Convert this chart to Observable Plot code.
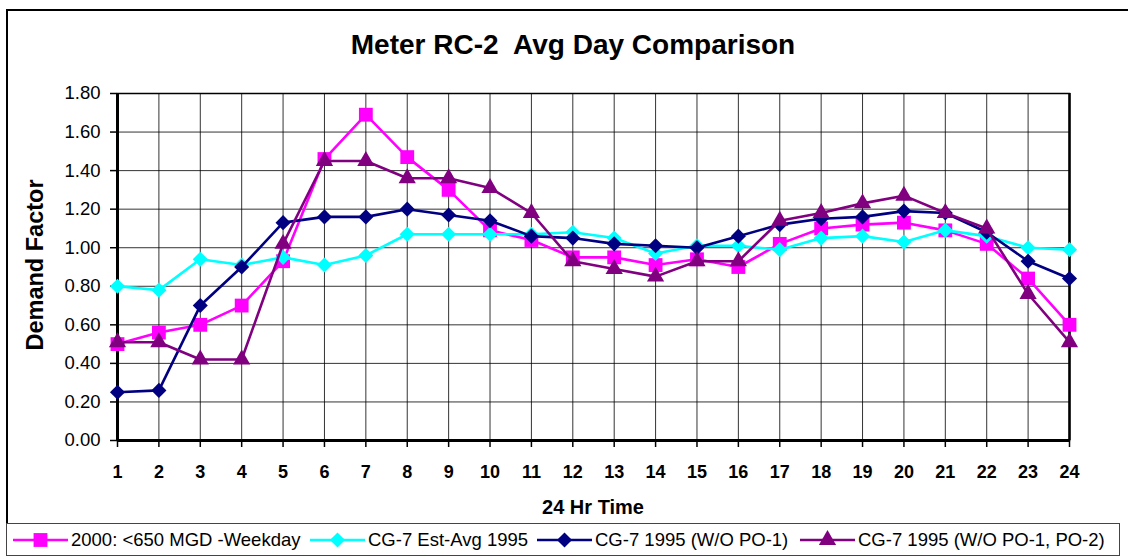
<!DOCTYPE html>
<html>
<head>
<meta charset="utf-8">
<script src="https://cdn.jsdelivr.net/npm/d3@7"></script>
<script src="https://cdn.jsdelivr.net/npm/@observablehq/plot@0.6"></script>
<style>
  html, body { margin: 0; padding: 0; background: #fff; }
  #chart { position: relative; width: 1128px; height: 559px; overflow: hidden; background: #fff; font-family: "Liberation Sans", Arial, sans-serif; color: #000; }
  .abs { position: absolute; }
  #title { left: 0; width: 1146px; top: 31px; text-align: center; font-weight: bold; font-size: 28px; line-height: 28px; white-space: pre; }
  #xtitle { left: 117px; width: 952px; top: 497px; text-align: center; font-weight: bold; font-size: 20px; line-height: 20px; }
  #ytitle { left: 35px; top: 265px; font-weight: bold; font-size: 23.5px; line-height: 23px; white-space: nowrap; transform: translate(-50%, -50%) rotate(-90deg); }
  #legend { left: 6px; top: 523px; width: 1114px; height: 33px; border: 1px solid #444; background: #fff; box-sizing: border-box; }
  .litem { position: absolute; top: 7px; height: 18px; display: flex; align-items: center; font-size: 18.5px; line-height: 18px; white-space: nowrap; }
  .litem svg { margin-right: 3px; overflow: visible; }
</style>
</head>
<body>
<div id="chart">
  <div class="abs" style="left:6px;top:9px;width:1140px;height:516px;border:2px solid #000;border-bottom:none;box-sizing:border-box;"></div>
  <div id="plot" class="abs" style="left:0;top:0;"></div>
  <div id="title" class="abs">Meter RC-2  Avg Day Comparison</div>
  <div id="xtitle" class="abs">24 Hr Time</div>
  <div id="ytitle" class="abs">Demand Factor</div>
  <div id="legend" class="abs"></div>
</div>
<script>
// ---- data ----
const hours = [1,2,3,4,5,6,7,8,9,10,11,12,13,14,15,16,17,18,19,20,21,22,23,24];
const yTicks = [0,0.2,0.4,0.6,0.8,1.0,1.2,1.4,1.6,1.8];
const seriesNames = [
  "2000: <650 MGD -Weekday",
  "CG-7 Est-Avg 1995",
  "CG-7 1995 (W/O PO-1)",
  "CG-7 1995 (W/O PO-1, PO-2)"
];
const weekday2000 = [0.50,0.56,0.60,0.70,0.93,1.46,1.69,1.47,1.30,1.09,1.04,0.95,0.95,0.91,0.94,0.90,1.02,1.10,1.12,1.13,1.09,1.02,0.84,0.60];
const estAvg1995  = [0.80,0.78,0.94,0.91,0.95,0.91,0.96,1.07,1.07,1.07,1.07,1.08,1.05,0.97,1.01,1.01,0.99,1.05,1.06,1.03,1.09,1.06,1.00,0.99];
const woPO1       = [0.25,0.26,0.70,0.90,1.13,1.16,1.16,1.20,1.17,1.14,1.06,1.05,1.02,1.01,1.00,1.06,1.12,1.15,1.16,1.19,1.18,1.08,0.93,0.84];
const woPO1PO2    = [0.51,0.51,0.42,0.42,1.02,1.45,1.45,1.36,1.36,1.31,1.18,0.93,0.89,0.85,0.93,0.93,1.14,1.18,1.23,1.27,1.18,1.10,0.76,0.51];
const seriesValues = [weekday2000, estAvg1995, woPO1, woPO1PO2];
const colors = ["#FF00FF", "#00FFFF", "#000080", "#800080"];
const symbols = ["square", "diamond2", "diamond2", "triangle"];
const symbolR = [7.8, 6.8, 6.8, 6.4];

// ---- chart ----
const marks = [
  Plot.gridX(hours, {stroke: "#000", strokeOpacity: 0.8, strokeWidth: 1}),
  Plot.gridY(yTicks, {stroke: "#000", strokeOpacity: 0.8, strokeWidth: 1}),
  Plot.frame({stroke: "#000", strokeWidth: 1.5}),
  Plot.ruleX([hours[0]], {stroke: "#000", strokeWidth: 3}),
  Plot.ruleX([hours[hours.length - 1]], {stroke: "#000", strokeWidth: 2.5}),
  Plot.ruleY([yTicks[0]], {stroke: "#000", strokeWidth: 3}),
  Plot.axisY(yTicks, {tickFormat: d3.format(".2f"), tickSize: 7, tickPadding: 10, fontSize: 18.5, label: null, stroke: "#000", strokeWidth: 1.5}),
  Plot.axisX(hours, {tickFormat: d => String(d), tickSize: 7, tickPadding: 18, fontSize: 18, fontWeight: "bold", label: null, stroke: "#000", strokeWidth: 1.5})
];
seriesValues.forEach((vals, i) => {
  const rows = hours.map((h, j) => ({hour: h, value: vals[j]}));
  marks.push(Plot.line(rows, {x: "hour", y: "value", stroke: colors[i], strokeWidth: 2.6}));
  marks.push(Plot.dot(rows, {x: "hour", y: "value", symbol: () => symbols[i], fill: colors[i], stroke: "none", r: symbolR[i]}));
});

const chart = Plot.plot({
  width: 1128,
  height: 524,
  marginLeft: 117,
  marginRight: 59,
  marginTop: 93,
  marginBottom: 84,
  style: {fontFamily: "'Liberation Sans', Arial, sans-serif", fontSize: "18px", color: "#000", background: "transparent", overflow: "visible"},
  x: {type: "linear", domain: [1, 24]},
  y: {domain: [0, 1.8]},
  symbol: {type: "identity"},
  marks
});
document.getElementById("plot").appendChild(chart);

// ---- legend ----
const legendX = [6, 303, 530, 793];
const legend = document.getElementById("legend");
const symMap = {square: d3.symbolSquare, diamond2: d3.symbolDiamond2, triangle: d3.symbolTriangle};
seriesNames.forEach((name, i) => {
  const item = document.createElement("div");
  item.className = "litem";
  item.style.left = legendX[i] + "px";
  const svg = d3.create("svg").attr("width", 55).attr("height", 18);
  svg.append("line").attr("x1", 0).attr("x2", 55).attr("y1", 9).attr("y2", 9)
    .attr("stroke", colors[i]).attr("stroke-width", 2.6);
  svg.append("path").attr("transform", "translate(27.5,9)")
    .attr("d", d3.symbol(symMap[symbols[i]], Math.PI * symbolR[i] * symbolR[i])())
    .attr("fill", colors[i]);
  item.appendChild(svg.node());
  const span = document.createElement("span");
  span.textContent = name;
  item.appendChild(span);
  legend.appendChild(item);
});
</script>
</body>
</html>
